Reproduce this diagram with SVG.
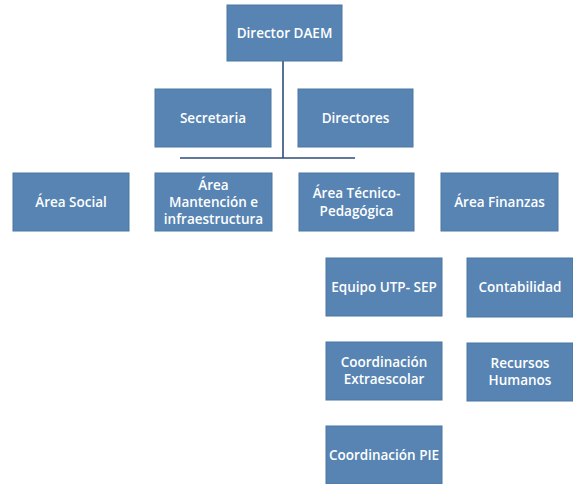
<svg xmlns="http://www.w3.org/2000/svg" width="573" height="484" viewBox="0 0 573 484">
<style>
.box{fill:#5784b2;stroke:#4a76a3;stroke-width:1}
.t{font-family:"Open Sans","Liberation Sans",sans-serif;font-size:13.5px;font-weight:600;fill:#ffffff;text-anchor:middle}
.c{stroke:#2f4d78;stroke-width:1.6;fill:none}
</style>
<rect width="573" height="484" fill="#ffffff"/>
<g id="connectors">
<line class="c" x1="283" y1="61" x2="283" y2="158"/>
<line class="c" x1="180" y1="158" x2="355" y2="158"/>
</g>
<g id="director"><rect class="box" x="227" y="5" width="115" height="56"/><text class="t" x="284.5" y="38">Director DAEM</text></g>
<g id="secretaria"><rect class="box" x="155" y="89" width="116" height="58"/><text class="t" x="213" y="123">Secretaria</text></g>
<g id="directores"><rect class="box" x="298" y="89" width="115" height="58"/><text class="t" x="355.5" y="123">Directores</text></g>
<g id="area-social"><rect class="box" x="13" y="173" width="116" height="58"/><text class="t" x="71" y="207">Área Social</text></g>
<g id="area-mantencion"><rect class="box" x="155" y="173" width="117" height="58"/><text class="t" x="213.5" y="190">Área</text><text class="t" x="213.5" y="207">Mantención e</text><text class="t" x="213.5" y="224">infraestructura</text></g>
<g id="area-tecnico"><rect class="box" x="299" y="173" width="115" height="58"/><text class="t" x="356.5" y="198">Área Técnico-</text><text class="t" x="356.5" y="216">Pedagógica</text></g>
<g id="area-finanzas"><rect class="box" x="441" y="173" width="117" height="58"/><text class="t" x="499.5" y="207">Área Finanzas</text></g>
<g id="equipo-utp"><rect class="box" x="326" y="258" width="116" height="58"/><text class="t" x="384" y="292">Equipo UTP- SEP</text></g>
<g id="contabilidad"><rect class="box" x="467" y="258" width="106" height="59"/><text class="t" x="520" y="292">Contabilidad</text></g>
<g id="coord-extraescolar"><rect class="box" x="326" y="342" width="116" height="58"/><text class="t" x="384" y="367">Coordinación</text><text class="t" x="384" y="384">Extraescolar</text></g>
<g id="recursos-humanos"><rect class="box" x="467" y="343" width="106" height="58"/><text class="t" x="520" y="368">Recursos</text><text class="t" x="520" y="385">Humanos</text></g>
<g id="coord-pie"><rect class="box" x="326" y="426" width="116" height="58"/><text class="t" x="384" y="460">Coordinación PIE</text></g>
</svg>
